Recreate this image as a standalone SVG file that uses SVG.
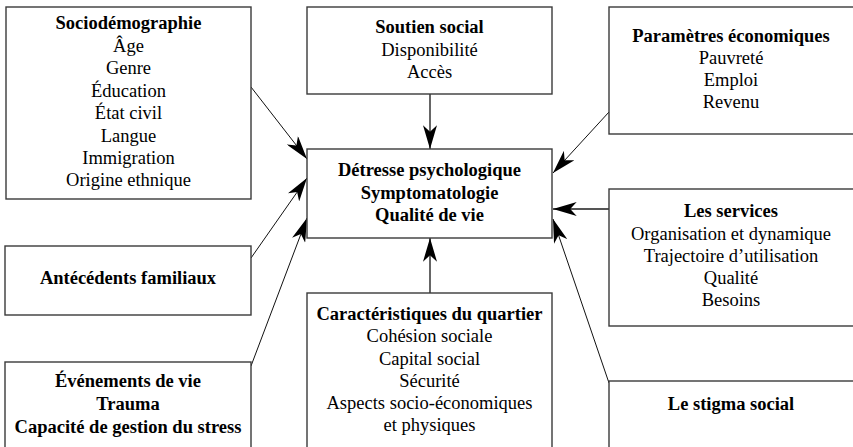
<svg xmlns="http://www.w3.org/2000/svg" width="853" height="447" viewBox="0 0 853 447">
<style>
.box{fill:#fff;stroke:#3a3a3a;stroke-width:1.4}
text{font-family:"Liberation Serif","Times New Roman",serif;font-size:18.5px;fill:#000;text-anchor:middle}
.b{font-weight:bold}
.c{fill:none;stroke:#111;stroke-width:1}
.g{fill:none;stroke:#555;stroke-width:1.8}
</style>
<defs>
<marker id="ah" markerUnits="userSpaceOnUse" markerWidth="24" markerHeight="14" viewBox="0 0 22 13" refX="22" refY="6.5" orient="auto">
<path d="M22,6.5 L0,0 L6,6.5 L0,13 Z" fill="#000"/>
</marker>
</defs>
<rect width="853" height="447" fill="#fff"/>
<g id="connectors">
<line class="g" x1="430" y1="94" x2="430" y2="149" marker-end="url(#ah)"/>
<line class="g" x1="430" y1="293" x2="430" y2="238" marker-end="url(#ah)"/>
<line class="c" x1="251" y1="87" x2="307" y2="159" marker-end="url(#ah)"/>
<line class="c" x1="251" y1="258" x2="307" y2="178" marker-end="url(#ah)"/>
<line class="c" x1="251" y1="366" x2="307" y2="218" marker-end="url(#ah)"/>
<line class="c" x1="609" y1="112" x2="553" y2="173" marker-end="url(#ah)"/>
<line class="g" x1="609" y1="209" x2="553" y2="209" marker-end="url(#ah)"/>
<line class="c" x1="609" y1="383" x2="553" y2="219" marker-end="url(#ah)"/>
</g>
<g id="socio">
<rect class="box" x="6" y="7" width="245" height="192"/>
<text x="128.5" y="29" class="b">Sociodémographie</text>
<text x="128.5" y="52">Âge</text>
<text x="128.5" y="74">Genre</text>
<text x="128.5" y="97">Éducation</text>
<text x="128.5" y="119">État civil</text>
<text x="128.5" y="142">Langue</text>
<text x="128.5" y="164">Immigration</text>
<text x="128.5" y="186">Origine ethnique</text>
</g>
<g id="soutien">
<rect class="box" x="307" y="7" width="245" height="87"/>
<text x="429.5" y="33" class="b">Soutien social</text>
<text x="429.5" y="56">Disponibilité</text>
<text x="429.5" y="78">Accès</text>
</g>
<g id="centre">
<rect class="box" x="307" y="149" width="245" height="89"/>
<text x="429.5" y="176" class="b">Détresse psychologique</text>
<text x="429.5" y="199" class="b">Symptomatologie</text>
<text x="429.5" y="221" class="b">Qualité de vie</text>
</g>
<g id="economiques">
<rect class="box" x="609" y="7" width="245" height="127"/>
<text x="731" y="42" class="b">Paramètres économiques</text>
<text x="731" y="64">Pauvreté</text>
<text x="731" y="86">Emploi</text>
<text x="731" y="108">Revenu</text>
</g>
<g id="services">
<rect class="box" x="609" y="189" width="245" height="137"/>
<text x="731" y="217" class="b">Les services</text>
<text x="731" y="240">Organisation et dynamique</text>
<text x="731" y="262">Trajectoire d’utilisation</text>
<text x="731" y="284">Qualité</text>
<text x="731" y="306">Besoins</text>
</g>
<g id="stigma">
<rect class="box" x="609" y="381" width="245" height="80"/>
<text x="731" y="410" class="b">Le stigma social</text>
</g>
<g id="antecedents">
<rect class="box" x="5" y="246" width="246" height="69"/>
<text x="128" y="284" class="b">Antécédents familiaux</text>
</g>
<g id="evenements">
<rect class="box" x="5" y="362" width="246" height="100"/>
<text x="128" y="387" class="b">Événements de vie</text>
<text x="128" y="410" class="b">Trauma</text>
<text x="128" y="433" class="b">Capacité de gestion du stress</text>
</g>
<g id="quartier">
<rect class="box" x="307" y="293" width="245" height="170"/>
<text x="429.5" y="320" class="b">Caractéristiques du quartier</text>
<text x="429.5" y="342">Cohésion sociale</text>
<text x="429.5" y="365">Capital social</text>
<text x="429.5" y="387">Sécurité</text>
<text x="429.5" y="409">Aspects socio-économiques</text>
<text x="429.5" y="431">et physiques</text>
</g>
</svg>
